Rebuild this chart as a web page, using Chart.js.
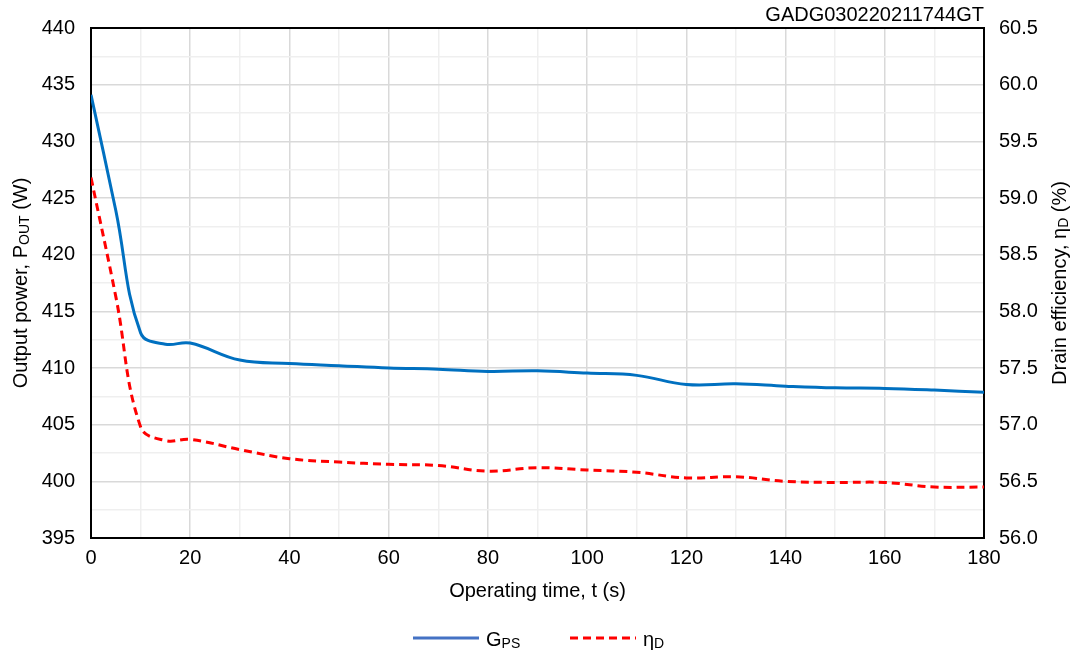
<!DOCTYPE html>
<html>
<head>
<meta charset="utf-8">
<script src="https://cdn.jsdelivr.net/npm/chart.js@4.4.1/dist/chart.umd.min.js"></script>
<style>
  html, body { margin: 0; padding: 0; background: #fff; }
  #wrap { width: 1075px; height: 657px; position: relative; }
</style>
</head>
<body>
<div id="wrap"><canvas id="chart"></canvas></div>
<script>
// data
const timeS = [0, 5, 10, 15, 20, 30, 40, 50, 60, 70, 80, 90, 100, 110, 120, 130, 140, 150, 160, 170, 180];
const outputPower = [434.1, 423.9, 413.1, 412.1, 412.2, 410.7, 410.4, 410.2, 410.0, 409.9, 409.7, 409.75, 409.55, 409.35, 408.55, 408.6, 408.4, 408.25, 408.2, 408.05, 407.85];
const drainEff = [59.18, 58.13, 56.98, 56.86, 56.87, 56.78, 56.70, 56.67, 56.65, 56.64, 56.59, 56.62, 56.60, 56.58, 56.53, 56.54, 56.50, 56.49, 56.49, 56.45, 56.45];

const chartId = "GADG030220211744GT";
const FONT = "'Liberation Sans', Arial, sans-serif";

const toPts = (xs, ys) => xs.map((x, i) => ({ x: x, y: ys[i] }));

/* =========================
   custom texts: id, axis titles with subscripts, legend
========================= */

function subText(ctx, parts, x, y, align) {
    // parts: [text, isSub]
    let widths = parts.map(p => {
        ctx.font = (p[1] ? "14px " : "20px ") + FONT;
        return ctx.measureText(p[0]).width;
    });
    let total = widths.reduce((a, b) => a + b, 0);
    let cx = align === "center" ? x - total / 2 : x;
    ctx.textAlign = "left";
    ctx.textBaseline = "middle";
    parts.forEach((p, i) => {
        ctx.font = (p[1] ? "14px " : "20px ") + FONT;
        ctx.fillText(p[0], cx, p[1] ? y + 4 : y);
        cx += widths[i];
    });
}

const extras = {
    id: "extras",
    beforeDatasetsDraw(chart) {
        const { ctx, chartArea: a } = chart;
        ctx.save();
        ctx.strokeStyle = "#000";
        ctx.lineWidth = 2;
        ctx.strokeRect(a.left, a.top, a.right - a.left, a.bottom - a.top);
        ctx.restore();
    },
    afterDraw(chart) {
        const { ctx, chartArea: a } = chart;
        ctx.save();
        ctx.fillStyle = "#000";

        ctx.font = "20px " + FONT;
        ctx.textAlign = "right";
        ctx.textBaseline = "middle";
        ctx.fillText(chartId, a.right, 15);

        // x title
        subText(ctx, [["Operating time, t (s)", false]], (a.left + a.right) / 2, 591, "center");

        // left title
        ctx.save();
        ctx.translate(21, (a.top + a.bottom) / 2);
        ctx.rotate(-Math.PI / 2);
        subText(ctx, [["Output power, P", false], ["OUT", true], [" (W)", false]], 0, 0, "center");
        ctx.restore();

        // right title
        ctx.save();
        ctx.translate(1060, (a.top + a.bottom) / 2);
        ctx.rotate(-Math.PI / 2);
        subText(ctx, [["Drain efficiency, \u03b7", false], ["D", true], [" (%)", false]], 0, 0, "center");
        ctx.restore();

        // legend
        ctx.lineWidth = 3;
        ctx.strokeStyle = "#4472C4";
        ctx.beginPath();
        ctx.moveTo(413, 638);
        ctx.lineTo(479, 638);
        ctx.stroke();
        subText(ctx, [["G", false], ["PS", true]], 486, 640, "left");

        ctx.strokeStyle = "#FF0000";
        ctx.setLineDash([8, 5]);
        ctx.beginPath();
        ctx.moveTo(570, 638);
        ctx.lineTo(636, 638);
        ctx.stroke();
        ctx.setLineDash([]);
        subText(ctx, [["\u03b7", false], ["D", true]], 643, 640, "left");

        ctx.restore();
    }
};

const tickFont = { family: FONT, size: 20 };

new Chart(document.getElementById("chart"), {
    type: "line",
    data: {
        datasets: [{
            label: "GPS",
            data: toPts(timeS, outputPower),
            yAxisID: "yL",
            borderColor: "#0070C0",
            borderWidth: 3,
            pointRadius: 0,
            tension: 0.4,
            fill: false
        }, {
            label: "ηD",
            data: toPts(timeS, drainEff),
            yAxisID: "yR",
            borderColor: "#FF0000",
            borderWidth: 3,
            borderDash: [8, 5],
            pointRadius: 0,
            tension: 0.4,
            fill: false
        }]
    },
    options: {
        responsive: true,
        maintainAspectRatio: false,
        animation: false,
        layout: { padding: { top: 28 } },
        plugins: {
            legend: { display: false },
            tooltip: { enabled: false }
        },
        scales: {
            x: {
                type: "linear",
                min: 0,
                max: 180,
                afterFit: s => { s.height = 119; },
                ticks: {
                    stepSize: 10,
                    font: tickFont,
                    color: "#000",
                    padding: 8,
                    maxRotation: 0,
                    autoSkip: false,
                    callback: v => (v % 20 === 0 ? v : "")
                },
                grid: {
                    drawTicks: false,
                    color: c => (c.tick.value % 20 === 0 ? "#d9d9d9" : "#efefef"),
                    lineWidth: 1.5
                },
                border: { display: false }
            },
            yL: {
                position: "left",
                min: 395,
                max: 440,
                afterFit: s => { s.width = 91; },
                ticks: {
                    stepSize: 2.5,
                    font: tickFont,
                    color: "#000",
                    padding: 16,
                    autoSkip: false,
                    callback: v => (v % 5 === 0 ? v : "")
                },
                grid: {
                    drawTicks: false,
                    color: c => (c.tick.value % 5 === 0 ? "#d9d9d9" : "#efefef"),
                    lineWidth: 1.5
                },
                border: { display: false }
            },
            yR: {
                position: "right",
                min: 56,
                max: 60.5,
                afterFit: s => { s.width = 91; },
                ticks: {
                    stepSize: 0.5,
                    font: tickFont,
                    color: "#000",
                    padding: 15,
                    autoSkip: false,
                    callback: v => v.toFixed(1)
                },
                grid: { display: false, drawTicks: false },
                border: { display: false }
            }
        }
    },
    plugins: [extras]
});
</script>
</body>
</html>
